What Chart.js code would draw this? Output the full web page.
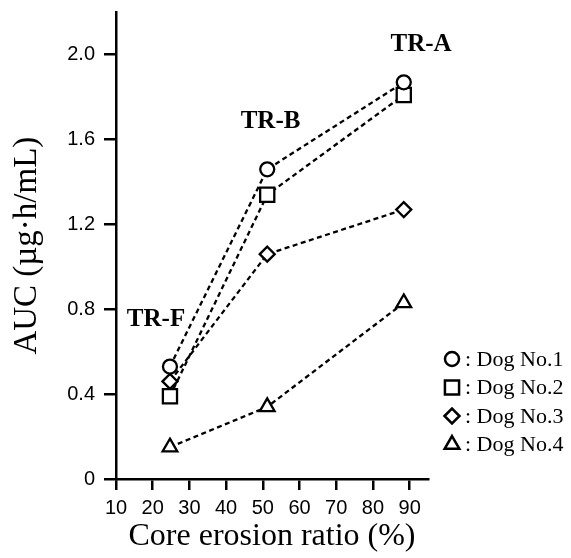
<!DOCTYPE html>
<html>
<head>
<meta charset="utf-8">
<script src="https://cdn.jsdelivr.net/npm/chart.js@4/dist/chart.umd.min.js"></script>
<style>
  html, body { margin: 0; padding: 0; background: #fff; }
  #wrap { width: 571px; height: 558px; }
</style>
</head>
<body>
<div id="wrap"><canvas id="aucChart"></canvas></div>
<script>
// Core erosion ratio (%) for TR-F, TR-B, TR-A
const erosionRatio = [24.7, 51.2, 88.4];
const formulations = ['TR-F', 'TR-B', 'TR-A'];
// where each formulation name is written (data coordinates)
const formulationLabelX = [20.9, 52.1, 93.1];
const formulationLabelY = [0.75, 1.685, 2.05];

const dogNames = ['Dog No.1', 'Dog No.2', 'Dog No.3', 'Dog No.4'];
const dog1 = [0.53, 1.46, 1.87];
const dog2 = [0.39, 1.34, 1.81];
const dog3 = [0.46, 1.06, 1.27];
const dog4 = [0.15, 0.34, 0.83];

const xTicks = [10, 20, 30, 40, 50, 60, 70, 80, 90];
const yTicks = [0, 0.4, 0.8, 1.2, 1.6, 2.0];

const markerStyles = ['circle', 'rect', 'rectRot', 'triangle'];
const markerSizes = [7, 10, 7.5, 8.5];

const series = [dog1, dog2, dog3, dog4];

const datasets = series.map((vals, i) => ({
    label: dogNames[i],
    data: vals.map((v, j) => ({ x: erosionRatio[j], y: v })),
    borderColor: '#000',
    borderWidth: 2.3,
    borderDash: [5, 3.5],
    pointStyle: markerStyles[i],
    pointRadius: markerSizes[i],
    pointBorderWidth: 2.3,
    pointBorderColor: '#000',
    pointBackgroundColor: '#fff',
    fill: false,
    tension: 0
}));

// formulation names + symbol legend
const annotations = {
    id: 'annotations',
    afterDraw(chart) {
        const ctx = chart.ctx;
        const xs = chart.scales.x, ys = chart.scales.y;
        ctx.save();
        ctx.fillStyle = '#000';
        ctx.font = 'bold 25px "Liberation Serif", serif';
        ctx.textAlign = 'center';
        ctx.textBaseline = 'middle';
        formulations.forEach((name, i) => {
            ctx.fillText(name, xs.getPixelForValue(formulationLabelX[i]), ys.getPixelForValue(formulationLabelY[i]));
        });

        // legend
        ctx.font = '22px "Liberation Serif", serif';
        ctx.textAlign = 'left';
        dogNames.forEach((name, i) => {
            const y = 359 + i * 28.5;
            ctx.strokeStyle = '#000';
            ctx.fillStyle = '#fff';
            ctx.lineWidth = 2.5;
            Chart.helpers.drawPoint(ctx, {
                pointStyle: markerStyles[i],
                radius: markerSizes[i],
                borderWidth: 2.5
            }, 452, y);
            ctx.fillStyle = '#000';
            ctx.fillText(': ' + name, 465, y + 1);
        });
        ctx.restore();
    }
};

const tickFont = { family: '"Liberation Sans", Arial, sans-serif', size: 20 };

new Chart(document.getElementById('aucChart'), {
    type: 'line',
    data: { datasets: datasets },
    options: {
        responsive: true,
        maintainAspectRatio: false,
        animation: false,
        layout: { padding: { top: 12, right: 143, left: 0, bottom: 0 } },
        plugins: { legend: { display: false }, tooltip: { enabled: false } },
        scales: {
            x: {
                type: 'linear',
                min: 10,
                max: 95,
                afterBuildTicks: s => { s.ticks = xTicks.map(v => ({ value: v })); },
                afterFit: s => { s.height = 79; s.paddingLeft = 0; s.paddingRight = 0; },
                border: { color: '#000', width: 2.5 },
                grid: { drawOnChartArea: false, drawTicks: true, tickLength: 11, color: '#000', lineWidth: 2.5 },
                ticks: { color: '#000', font: tickFont, padding: 6, maxRotation: 0, callback: v => String(v) },
                title: {
                    display: true,
                    text: 'Core erosion ratio (%)',
                    color: '#000',
                    font: { family: '"Liberation Serif", serif', size: 32 },
                    padding: { top: 0, bottom: 2 }
                }
            },
            y: {
                type: 'linear',
                min: 0,
                max: 2.2,
                afterBuildTicks: s => { s.ticks = yTicks.map(v => ({ value: v })); },
                afterFit: s => { s.width = 116; s.paddingTop = 0; s.paddingBottom = 0; },
                border: { color: '#000', width: 2.5 },
                grid: { drawOnChartArea: false, drawTicks: true, tickLength: 12, color: '#000', lineWidth: 2.5 },
                ticks: { color: '#000', font: tickFont, padding: 9, callback: v => v === 0 ? '0' : v.toFixed(1) },
                title: {
                    display: true,
                    text: 'AUC (\u00b5g\u00b7h/mL)',
                    color: '#000',
                    font: { family: '"Liberation Serif", serif', size: 33 },
                    padding: { top: 8, bottom: 0 }
                }
            }
        }
    },
    plugins: [annotations]
});
</script>
</body>
</html>
